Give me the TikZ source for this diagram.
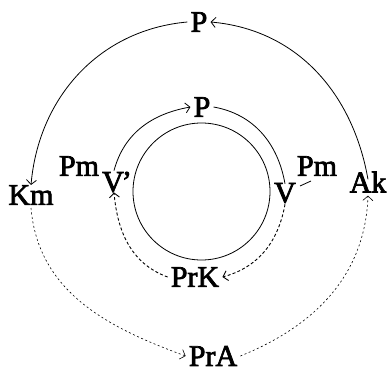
\documentclass[tikz,border=0pt]{standalone}
\usepackage{fontspec}
\setmainfont{Liberation Serif}
\newfontfamily\lblfont[Ligatures=TeX,FakeBold=2.5]{Liberation Serif}
\usetikzlibrary{arrows.meta,calc}
\begin{document}
\begin{tikzpicture}[x=1pt,y=-1pt,
  lbl/.style={inner sep=3pt,font=\lblfont\fontsize{30}{32}\selectfont},
  tip/.style={-{Straight Barb[length=4.5pt,width=10pt]}},
  solidln/.style={line width=0.8pt},
  innerdash/.style={line width=0.9pt,dash pattern=on 3pt off 2.2pt},
  outerdot/.style={line width=0.6pt,dash pattern=on 2pt off 2.5pt}]
\useasboundingbox (0,0) rectangle (388,372);
% nodes
\node[lbl] (Pt)  at (199,22)  {P};
\node[lbl] (Km)  at (31,195)  {Km};
\node[lbl] (Ak)  at (368,182) {Ak};
\node[lbl] (PrA) at (213,356) {PrA};
\node[lbl] (Pi)  at (202,107) {P};
\node[lbl] (Vp)  at (117,182) {V\kern-2pt'};
\node[lbl] (V)   at (285,193) {V};
\node[lbl] (PrK) at (195,277) {PrK};
\node[lbl] (PmL) at (79,166)  {Pm};
\node[lbl] (PmR) at (317,166) {Pm};
\node[circle,draw,line width=0.8pt,minimum size=137pt,inner sep=0pt] (ring) at (201.5,191.5) {};
% inner cycle
\draw[solidln,tip] ([xshift=-3pt,yshift=-2pt]Vp.north) to[out=75,in=190] (Pi.west);
\draw[solidln] (Pi.east) to[out=-10,in=100] ([yshift=-4pt]V.north);
\draw[innerdash,tip] ([yshift=2pt]V.south) to[out=-100,in=15] (PrK.east);
\draw[innerdash,tip] (PrK.west) to[out=160,in=-85] ([xshift=-3pt,yshift=3pt]Vp.south);
\draw[solidln] ($(V.center)+(15,-7)$) -- ($(PmR.center)+(-6,15)$);
% outer cycle
\draw[solidln,tip] ([yshift=-11pt]Ak.north) to[out=100,in=-5] (Pt.east);
\draw[solidln,tip] (Pt.west) to[out=185,in=85] ([yshift=-3pt]Km.north);
\draw[outerdot,tip] (Km.south) to[out=-85,in=160] (PrA.west);
\draw[outerdot,tip] (PrA.east) to[out=22,in=-92] (Ak.south);
\end{tikzpicture}
\end{document}
